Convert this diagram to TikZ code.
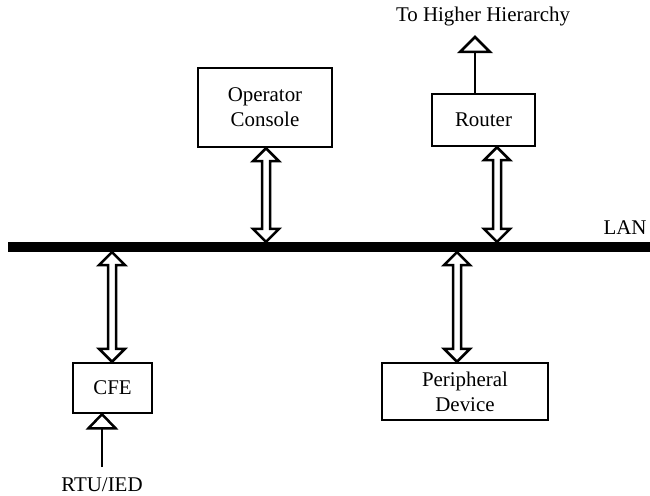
\documentclass[tikz,border=0pt]{standalone}
\usepackage{fontspec}
\setmainfont{Liberation Serif}
\usetikzlibrary{calc}

% hollow two-way arrow between a top tip and a bottom tip (vertical)
\newcommand\twowayarrow[2]{%
  \draw[hollow] #1 -- ++(13,13) -- ++(-9,0) -- ($#2+(4,-13)$)
    -- ++(9,0) -- #2 -- ++(-13,-13) -- ++(9,0)
    -- ($#1+(-4,13)$) -- ++(-9,0) -- cycle;}

\begin{document}
\begin{tikzpicture}[x=1bp,y=-1bp,
  box/.style={draw,line width=2.5bp,inner sep=0pt,align=center,
    font=\fontsize{21}{25}\selectfont},
  lbl/.style={inner sep=0pt,font=\fontsize{21}{25}\selectfont},
  hollow/.style={draw,fill=white,line width=2.5bp,line join=miter},
  feed/.style={line width=2.5bp}]
\useasboundingbox (0,0) rectangle (650,496);

% LAN bus
\node[fill=black,minimum width=642bp,minimum height=10bp,inner sep=0pt]
  (lan) at (329,247) {};
\node[lbl] (lanlbl) at (625,228) {LAN};

% devices
\node[box,minimum width=134bp,minimum height=79bp] (console) at (265,107.5)
  {Operator\\Console};
\node[box,minimum width=103bp,minimum height=52bp] (router) at (483.5,120)
  {Router};
\node[box,minimum width=79bp,minimum height=50bp] (cfe) at (112.5,388)
  {CFE};
\node[box,minimum width=166bp,minimum height=57bp] (periph) at (465,391.5)
  {Peripheral\\Device};

\node[lbl] (higher) at (483,17) {To Higher Hierarchy};
\node[lbl] (rtu) at (102,485) {RTU/IED};

% taps on the bus
\coordinate (tapC) at (266,0);
\coordinate (tapR) at (497,0);
\coordinate (tapF) at (112,0);
\coordinate (tapP) at (457,0);
\coordinate (upR) at (475,0);
\coordinate (inF) at (102,0);

\twowayarrow{(console.south -| tapC)}{(lan.north -| tapC)}
\twowayarrow{(router.south -| tapR)}{(lan.north -| tapR)}
\twowayarrow{(lan.south -| tapF)}{(cfe.north -| tapF)}
\twowayarrow{(lan.south -| tapP)}{(periph.north -| tapP)}

% router uplink
\coordinate (upTip) at (475,37);
\draw[feed] (router.north -| upR) -- ($(upTip)+(0,15)$);
\draw[hollow] (upTip) -- ++(15,15) -- ++(-30,0) -- cycle;

% RTU/IED feed into CFE
\coordinate (inStart) at (102,467);
\draw[feed] (inStart) -- ($(cfe.south -| inF)+(0,14)$);
\draw[hollow] (cfe.south -| inF) -- ++(13.5,14) -- ++(-27,0) -- cycle;
\end{tikzpicture}
\end{document}
